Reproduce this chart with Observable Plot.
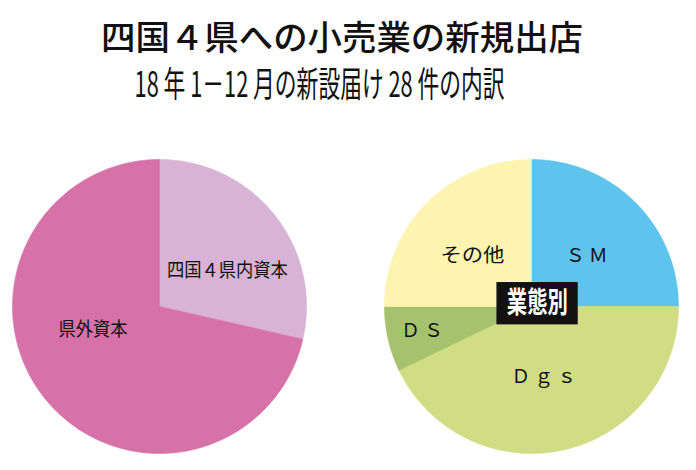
<!DOCTYPE html>
<html><head><meta charset="utf-8">
<script src="https://cdn.jsdelivr.net/npm/d3@7"></script>
<script src="https://cdn.jsdelivr.net/npm/@observablehq/plot@0.6"></script>
<style>
body{margin:0;background:#fff;width:696px;height:470px;overflow:hidden;font-family:"Noto Sans CJK JP","Noto Sans",sans-serif;color:#111;}
#head{position:relative;height:140px;}
#title,#subtitle{position:absolute;white-space:nowrap;line-height:1;transform-origin:center center;}
#title{font-size:34px;font-weight:500;top:19px;}
#subtitle{font-size:35px;font-weight:400;top:64px;}
#chart svg{display:block;}
</style></head><body>
<div id="head"><span id="title"></span><span id="subtitle"></span></div>
<div id="chart"></div>
<script>
// ---- data ----
const titleText = "四国４県への小売業の新規出店";
const subtitleText = "18 年 1－12 月の新設届け 28 件の内訳";
const capitalNames = ["四国４県内資本", "県外資本"];
const capitalCounts = [8, 20];
const typeNames = ["ＳＭ", "Ｄｇｓ", "ＤＳ", "その他"];
const typeCounts = [7, 12, 2, 7];
const centerLabel = "業態別";

// ---- styles / layout ----
const sliceColors = {
  "四国４県内資本": "#d8b3d5", "県外資本": "#d672a7",
  "ＳＭ": "#5ec4ed", "Ｄｇｓ": "#d0dd84", "ＤＳ": "#a6c26e", "その他": "#fcf4b0"
};
const leftCx = 0, rightCx = 2.53;
// label placement: angle (deg clockwise from 12 o'clock) and radius fraction
const labelPlace = {
  "四国４県内資本": {a: 62.6, r: 0.52}, "県外資本": {a: 250.7, r: 0.48},
  "ＳＭ": {a: 48.5, r: 0.52}, "Ｄｇｓ": {a: 168.5, r: 0.49}, "ＤＳ": {a: 257, r: 0.75}, "その他": {a: 310.7, r: 0.53}
};
const labelWidth = {"四国４県内資本": 121, "県外資本": 69, "その他": 64, "業態別": 61};

// title
const t = document.getElementById("title"); t.textContent = titleText;
const s = document.getElementById("subtitle"); s.textContent = subtitleText;
function fit(el, cx, target) {
  const w = el.getBoundingClientRect().width;
  el.style.left = (cx - w / 2) + "px";
  el.style.transform = `scaleX(${target / w})`;
}
fit(t, 342, 482);
fit(s, 320, 370);

function slices(names, counts, cx) {
  const total = d3.sum(counts);
  let acc = 0; const pts = [];
  names.forEach((n, i) => {
    const a0 = acc / total * 2 * Math.PI; acc += counts[i];
    const a1 = acc / total * 2 * Math.PI;
    const steps = Math.max(2, Math.ceil((a1 - a0) / (Math.PI / 360)));
    pts.push({name: n, x: cx, y: 0});
    for (let k = 0; k <= steps; k++) {
      const a = a0 + (a1 - a0) * k / steps;
      pts.push({name: n, x: cx + Math.sin(a), y: Math.cos(a)});
    }
    pts.push({name: n, x: cx, y: 0});
  });
  return pts;
}
function labels(names, cx) {
  return names.map(n => {
    const p = labelPlace[n], a = p.a * Math.PI / 180;
    return {name: n, x: cx + p.r * Math.sin(a), y: p.r * Math.cos(a)};
  });
}
const pts = [...slices(capitalNames, capitalCounts, leftCx), ...slices(typeNames, typeCounts, rightCx)];
const allNames = [...capitalNames, ...typeNames];

const plot = Plot.plot({
  width: 696, height: 330,
  marginLeft: 12, marginRight: 18, marginTop: 19, marginBottom: 17,
  x: {domain: [-1, rightCx + 1], axis: null},
  y: {domain: [-1, 1], axis: null},
  color: {type: "ordinal", domain: allNames, range: allNames.map(n => sliceColors[n])},
  style: {fontFamily: "'Noto Sans CJK JP', sans-serif", background: "white"},
  marks: [
    Plot.line(pts, {x: "x", y: "y", z: "name", fill: "name", stroke: "name", strokeWidth: 0.6, curve: "linear"}),
    Plot.text(labels(capitalNames, leftCx), {x: "x", y: "y", text: "name", fontSize: 19, fill: "#111"}),
    Plot.text(labels(typeNames, rightCx), {x: "x", y: "y", text: "name", fontSize: 19, fill: "#111"}),
    Plot.rect([centerLabel], {x1: rightCx - 0.235, x2: rightCx + 0.318, y1: -0.125, y2: 0.163, fill: "#111"}),
    Plot.text([centerLabel], {x: rightCx + 0.04, y: 0.018, text: d => d, fontSize: 29, fontWeight: 700, fill: "white"})
  ]
});
document.getElementById("chart").appendChild(plot);
d3.select(plot).selectAll("text").each(function() {
  const txt = this.textContent;
  if (labelWidth[txt]) {
    this.setAttribute("textLength", labelWidth[txt]);
    this.setAttribute("lengthAdjust", "spacingAndGlyphs");
  } else if (["ＳＭ", "Ｄｇｓ", "ＤＳ"].includes(txt)) {
    this.style.letterSpacing = "4px";
  }
});
</script>
</body></html>
